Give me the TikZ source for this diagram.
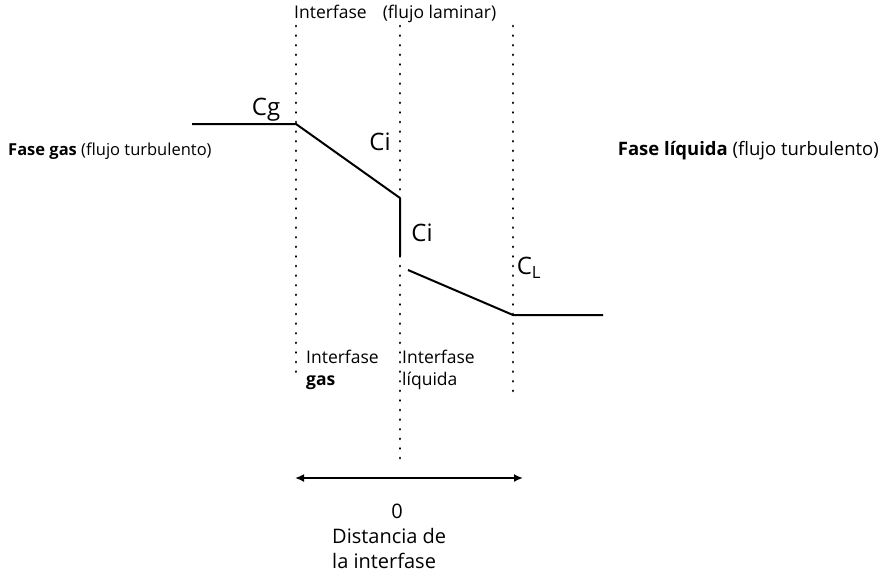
\documentclass[tikz,border=0pt]{standalone}
\usepackage{fontspec}
\setmainfont{Open Sans}
\usetikzlibrary{arrows.meta}
\begin{document}
\begin{tikzpicture}[x=1pt,y=-1pt,
  dotline/.style={line width=2.8pt,dash pattern=on 0.1pt off 9.5pt,line cap=round},
  curve/.style={line width=2pt,line join=round},
  lbl/.style={font=\fontsize{16.5}{22}\selectfont,inner sep=0pt},
  midlbl/.style={font=\fontsize{17.5}{22}\selectfont,inner sep=0pt},
  biglbl/.style={font=\fontsize{20}{25}\selectfont,inner sep=0pt},
  conc/.style={font=\fontsize{24}{26}\selectfont,inner sep=0pt},
  axis/.style={line width=1.8pt,{Latex[length=9pt,width=8pt]}-{Latex[length=9pt,width=8pt]}}]
\useasboundingbox (0,0) rectangle (882,573);
% dotted lines
\coordinate (l1t) at (296,26); \coordinate (l1b) at (296,375);
\coordinate (l2t) at (400,26); \coordinate (l2b) at (400,460);
\coordinate (l3t) at (513,26); \coordinate (l3b) at (513,395);
\draw[dotline] (l1t) -- (l1b);
\draw[dotline] (l2t) -- (l2b);
\draw[dotline] (l3t) -- (l3b);
% concentration profile
\coordinate (g0) at (192,124);
\coordinate (g1) at (296,124);
\coordinate (g2) at (400,198);
\coordinate (g3) at (400,256);
\coordinate (q1) at (408,270);
\coordinate (q2) at (513,315);
\coordinate (q3) at (603,315);
\draw[curve] (g0) -- (g1) -- (g2) -- (g3);
\draw[curve] (q1) -- (q2) -- (q3);
% concentration labels
\node[conc] (cg) at (266,110) {Cg};
\node[conc] (ci1) at (380,142) {Ci};
\node[conc] (ci2) at (422,233) {Ci};
\node[conc] (cl) at (529,268) {C$_{\mathrm{L}}$};
% phase labels
\node[lbl,anchor=west] (fg) at (8,151) {\textbf{Fase gas} (flujo turbulento)};
\node[midlbl,font=\fontsize{18.5}{22}\selectfont,anchor=east] (fl) at (879,151) {\textbf{Fase líquida} (flujo turbulento)};
\node[midlbl,anchor=west] (top) at (294,14) {Interfase\hspace{16pt}(flujo laminar)};
\node[midlbl,anchor=north west,align=left] (ig) at (306,350) {Interfase\\\textbf{gas}};
\node[midlbl,anchor=north west,align=left] (il) at (402,350) {Interfase\\líquida};
% axis
\coordinate (a0) at (295,478);
\coordinate (a1) at (523,478);
\draw[axis] (a0) -- (a1);
\node[biglbl] (zero) at (397,511) {0};
\node[biglbl,anchor=base west,align=left] (dist) at (332,568) {Distancia de\\la interfase};
\end{tikzpicture}
\end{document}
